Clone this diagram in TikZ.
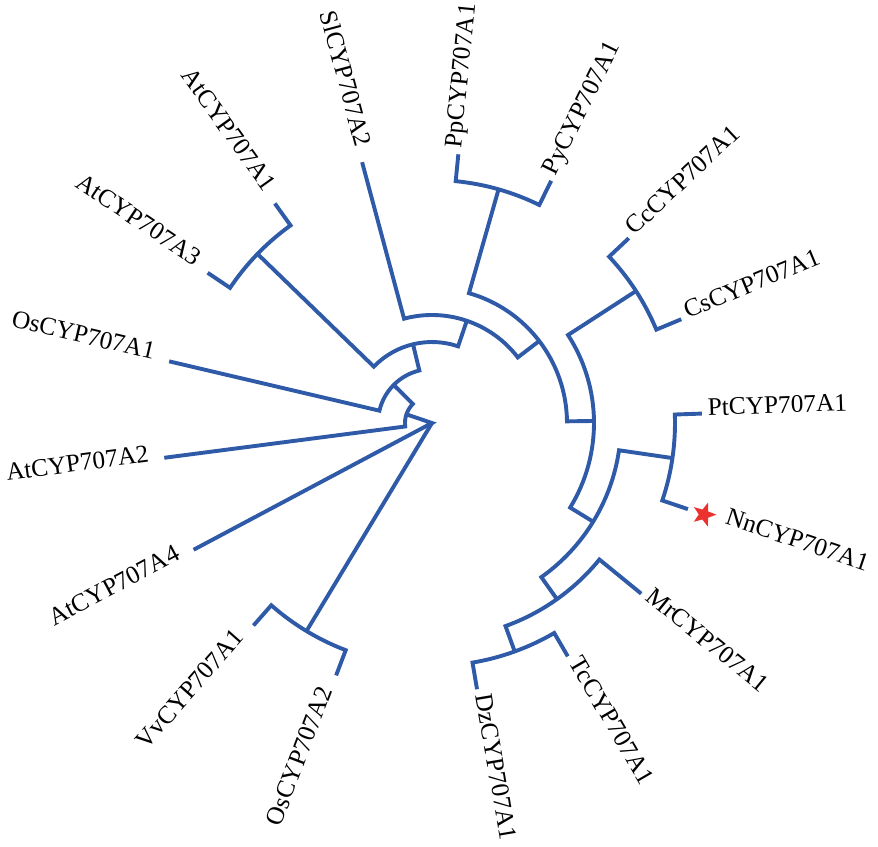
\documentclass[tikz,border=0pt]{standalone}
\usepackage{fontspec}
\setmainfont{Liberation Serif}
\usetikzlibrary{shapes.geometric}
\definecolor{treeblue}{RGB}{46,90,167}
\definecolor{starred}{RGB}{236,50,46}

\begin{document}
\begin{tikzpicture}[x=1pt,y=1pt]
  \tikzset{
    branch/.style={treeblue, line width=3.9pt},
    taxon/.style={inner sep=0pt, font=\fontsize{25.3}{30}\selectfont},
    taxonR/.style={taxon, anchor=mid west},
    taxonL/.style={taxon, anchor=mid east},
  }
  %clade: radius, first angle, first child radius, last angle, last child radius
  \newcommand{\clade}[5]{\draw[branch] (#2:#3) -- (#2:#1) arc[start angle=#2, end angle=#4, radius=#1] -- (#4:#5);}

  \useasboundingbox (-432,-423) rectangle (446,423);

  %root
  \coordinate (root) at (0,0);
  \draw[branch] (161.3:27) -- (root) -- (208.0:270);
  \draw[branch] (root) -- (238.9:243);

  %inner clades
  \clade{27}{187.4}{270}{135.2}{54}
  \clade{54}{166.8}{270}{103.55}{81}
  \clade{81}{135.9}{243}{71.2}{108}
  \clade{108}{105.0}{270}{37.41}{135}
  \clade{135}{74.1}{243}{0.71}{162}
  \clade{162}{32.9}{243}{-31.48}{189}
  \clade{189}{-8.3}{243}{-54.65}{216}
  \clade{216}{-39.2}{270}{-70.1}{243}

  %pairs of tips
  \clade{243}{249.2}{270}{228.6}{270}
  \clade{243}{146.2}{270}{125.6}{270}
  \clade{243}{84.4}{270}{63.8}{270}
  \clade{243}{43.2}{270}{22.6}{270}
  \clade{243}{2.0}{270}{-18.6}{270}
  \clade{243}{-59.8}{270}{-80.4}{270}

  %labels, left half
  \node[taxonL, rotate=69.2] (OsA2) at (249.2:285) {OsCYP707A2};
  \node[taxonL, rotate=48.6] (VvA1) at (228.6:285) {VvCYP707A1};
  \node[taxonL, rotate=28.0] (AtA4) at (208.0:285) {AtCYP707A4};
  \node[taxonL, rotate=7.4] (AtA2) at (187.4:285) {AtCYP707A2};
  \node[taxonL, rotate=-13.2] (OsA1) at (166.8:286) {OsCYP707A1};
  \node[taxonL, rotate=-33.8] (AtA3) at (146.2:285) {AtCYP707A3};
  \node[taxonL, rotate=-54.4] (AtA1) at (125.6:285) {AtCYP707A1};
  \node[taxonL, rotate=-75.0] (SlA2) at (105.0:285) {SlCYP707A2};

  %labels, right half
  \node[taxonR, rotate=84.4] (PpA1) at (84.4:276) {PpCYP707A1};
  \node[taxonR, rotate=63.8] (PyA1) at (63.8:276) {PyCYP707A1};
  \node[taxonR, rotate=43.2] (CcA1) at (43.2:276) {CcCYP707A1};
  \node[taxonR, rotate=22.6] (CsA1) at (22.6:276) {CsCYP707A1};
  \node[taxonR, rotate=2.0] (PtA1) at (2.0:276) {PtCYP707A1};
  \node[star, star points=5, star point ratio=2.4, fill=starred, minimum size=25pt, inner sep=0pt, rotate=-18.6] (nnstar) at (-18.6:287) {};
  \node[taxonR, rotate=-18.6] (NnA1) at (-18.6:309) {NnCYP707A1};
  \node[taxonR, rotate=-39.2] (MrA1) at (-39.2:276) {MrCYP707A1};
  \node[taxonR, rotate=-59.8] (TcA1) at (-59.8:276) {TcCYP707A1};
  \node[taxonR, rotate=-80.4] (DzA1) at (-80.4:276) {DzCYP707A1};
\end{tikzpicture}
\end{document}
